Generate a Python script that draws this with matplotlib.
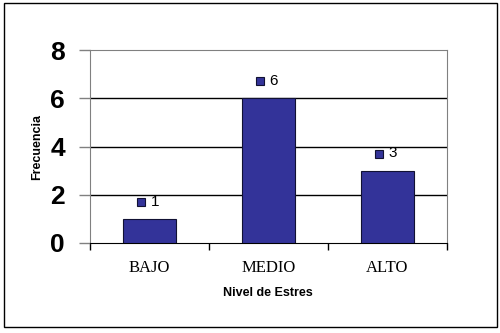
import matplotlib
matplotlib.use("Agg")
import matplotlib.pyplot as plt
from matplotlib.patches import Rectangle

categories = ["BAJO", "MEDIO", "ALTO"]
values = [1, 6, 3]
yticks = [0, 2, 4, 6, 8]

W, H = 500, 333
fig = plt.figure(figsize=(5, 3.33), dpi=100)
fig.patch.set_facecolor("white")

# outer frame
fig.patches.append(Rectangle((4 / W, 1 - 327 / H), (497 - 4) / W, (327 - 3) / H,
                             transform=fig.transFigure, fill=False,
                             edgecolor="black", linewidth=1.0))

left, right, top, bottom = 90, 447, 50, 243
ax = fig.add_axes([left / W, 1 - bottom / H, (right - left) / W, (bottom - top) / H])

x = list(range(len(categories)))
ax.bar(x, values, width=0.45, color="#333399", edgecolor="#111133", linewidth=0.8, zorder=3)

ax.set_xlim(-0.5, len(categories) - 0.5)
ax.set_ylim(0, 8)
ax.set_yticks(yticks)
ax.set_yticklabels([str(v) for v in yticks], fontsize=19, fontweight="bold",
                   family="Liberation Sans")
ax.tick_params(axis="y", length=8, width=1, color="#808080", pad=10)

# category boundary ticks
ax.set_xticks([i + 0.5 for i in x[:-1]] + [-0.5, len(categories) - 0.5], minor=False)
ax.set_xticklabels([""] * (len(categories) + 1))
ax.tick_params(axis="x", length=5, width=1, color="#000000")
for i, c in enumerate(categories):
    ax.text(i, -1.05, c, ha="center", va="center", fontsize=12,
            family="Liberation Serif", transform=ax.transData)

for yv in yticks[1:-1]:
    ax.axhline(yv, color="black", linewidth=1.0, zorder=1)

for s in ["top", "right", "left"]:
    ax.spines[s].set_color("#808080")
ax.spines["bottom"].set_color("black")

# data labels
for i, v in enumerate(values):
    ax.plot(i - 0.07, v + 0.7, marker="s", markersize=6, color="#333399",
            markeredgecolor="#111133", markeredgewidth=0.8, zorder=4, clip_on=False)
    ax.text(i + 0.01, v + 0.72, str(v), ha="left", va="center", fontsize=11,
            family="Liberation Sans")

fig.text(268 / W, 1 - 293 / H, "Nivel de Estres", ha="center", va="center",
         fontsize=9, fontweight="bold", family="Liberation Sans")
fig.text(37 / W, 1 - 147 / H, "Frecuencia", ha="center", va="center", rotation=90,
         fontsize=9, fontweight="bold", family="Liberation Sans")

fig.savefig("out.png", dpi=100)
